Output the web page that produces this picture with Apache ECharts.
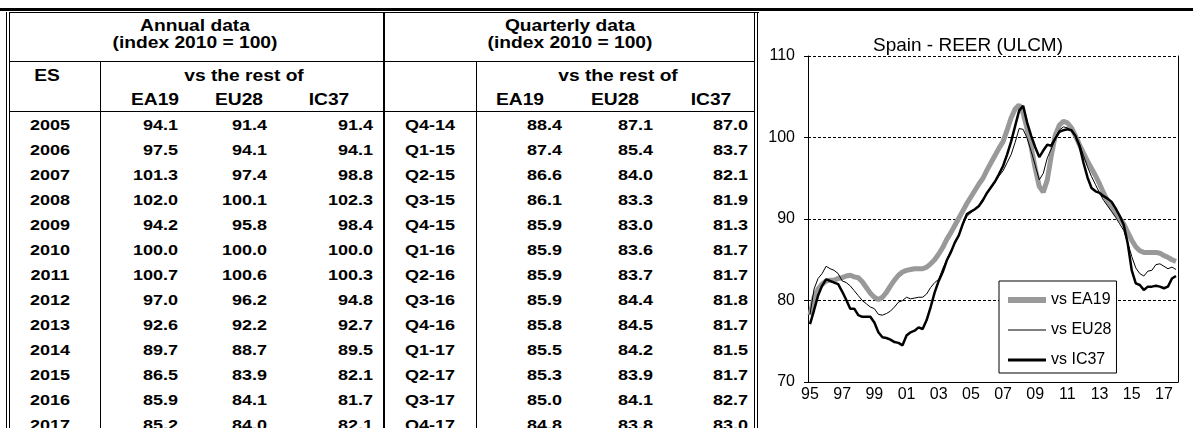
<!DOCTYPE html>
<html>
<head>
<meta charset="utf-8">
<script src="https://cdn.jsdelivr.net/npm/echarts@6/dist/echarts.min.js"></script>
<style>
  html, body { margin: 0; padding: 0; background: #fff; }
  #page { position: relative; width: 1193px; height: 428px; overflow: hidden; background: #fff; }
  #table { position: absolute; left: 0; top: 0; width: 1193px; height: 428px; font-family: "Liberation Sans", Arial, sans-serif; font-weight: bold; color: #000; }
  #table div { position: absolute; white-space: nowrap; }
  #chart { position: absolute; left: 0; top: 0; width: 1193px; height: 428px; }
</style>
</head>
<body>
<div id="page">
  <div id="table"></div>
  <div id="chart"></div>
</div>
<script>
// table: annual data
const annualYears = ['2005', '2006', '2007', '2008', '2009', '2010', '2011', '2012', '2013', '2014', '2015', '2016', '2017'];
const annualEA19 = [94.1, 97.5, 101.3, 102.0, 94.2, 100.0, 100.7, 97.0, 92.6, 89.7, 86.5, 85.9, 85.2];
const annualEU28 = [91.4, 94.1, 97.4, 100.1, 95.8, 100.0, 100.6, 96.2, 92.2, 88.7, 83.9, 84.1, 84.0];
const annualIC37 = [91.4, 94.1, 98.8, 102.3, 98.4, 100.0, 100.3, 94.8, 92.7, 89.5, 82.1, 81.7, 82.1];

// table: quarterly data
const tableQuarters = ['Q4-14', 'Q1-15', 'Q2-15', 'Q3-15', 'Q4-15', 'Q1-16', 'Q2-16', 'Q3-16', 'Q4-16', 'Q1-17', 'Q2-17', 'Q3-17', 'Q4-17'];
const quarterEA19 = [88.4, 87.4, 86.6, 86.1, 85.9, 85.9, 85.9, 85.9, 85.8, 85.5, 85.3, 85.0, 84.8];
const quarterEU28 = [87.1, 85.4, 84.0, 83.3, 83.0, 83.6, 83.7, 84.4, 84.5, 84.2, 83.9, 84.1, 83.8];
const quarterIC37 = [87.0, 83.7, 82.1, 81.9, 81.3, 81.7, 81.7, 81.8, 81.7, 81.5, 81.7, 82.7, 83.0];

// chart: quarterly REER, Q1-95 .. Q4-17
const chartYears = ['95', '96', '97', '98', '99', '00', '01', '02', '03', '04', '05', '06',
    '07', '08', '09', '10', '11', '12', '13', '14', '15', '16', '17'];
const reerEA19 = [
    78.2, 80.4, 81.4, 82.0,   82.4, 82.5, 82.5, 82.7,   82.8, 83.0, 83.1, 82.9,
    82.8, 82.3, 81.6, 80.9,   80.4, 80.1, 80.4, 81.0,   81.8, 82.5, 83.1, 83.5,
    83.7, 83.8, 83.9, 83.9,   83.9, 84.1, 84.5, 85.0,   85.7, 86.5, 87.5, 88.3,
    89.2, 90.1, 91.0, 91.9,   92.7, 93.5, 94.3, 95.0,   96.0, 96.9, 97.8, 98.7,
    99.5, 100.9, 102.4, 103.5, 104.0, 103.0, 101.0, 98.8, 96.2, 94.0, 93.3, 94.8,
    97.8, 100.3, 101.5, 102.0, 101.8, 101.2, 100.2, 99.1, 98.1, 97.1, 96.2, 95.3,
    94.3, 93.2, 92.2, 91.4,   90.7, 90.1, 89.4, 88.4,   87.4, 86.6, 86.1, 85.9,
    85.9, 85.9, 85.9, 85.8,   85.5, 85.3, 85.0, 84.8
];
const reerEU28 = [
    78.3, 81.4, 82.7, 83.3,   84.2, 83.9, 83.7, 83.3,   82.4, 82.2, 81.8, 81.2,
    80.6, 80.0, 79.6, 79.2,   79.0, 78.3, 78.2, 78.4,   78.7, 79.2, 79.8, 80.0,
    80.4, 80.2, 80.3, 80.4,   80.4, 80.8, 81.6, 82.2,   82.6, 83.9, 85.0, 86.1,
    87.0, 88.0, 89.3, 90.3,   90.8, 91.2, 91.7, 92.5,   93.2, 93.8, 94.5, 95.3,
    95.9, 96.9, 97.9, 99.4,   101.1, 101.0, 99.9, 98.3, 96.6, 94.8, 95.6, 97.5,
    98.6, 99.9, 100.9, 101.3, 101.2, 100.8, 100.2, 99.2, 97.8, 96.4, 95.2, 94.2,
    93.2, 92.3, 91.6, 90.9,   90.2, 89.4, 88.6, 87.1,   85.4, 84.0, 83.3, 83.0,
    83.6, 83.7, 84.4, 84.5,   84.2, 83.9, 84.1, 83.8
];
const reerIC37 = [
    77.1, 78.8, 80.6, 81.8,   82.6, 82.4, 82.2, 82.0,   81.1, 80.1, 79.0, 79.0,
    78.2, 78.0, 78.0, 78.0,   77.3, 76.1, 75.5, 75.4,   75.2, 74.9, 74.8, 74.5,
    75.7, 76.1, 76.3, 76.7,   76.5, 77.6, 79.2, 81.0,   82.4, 83.5, 84.9, 85.9,
    87.1, 88.0, 89.4, 90.6,   90.9, 91.2, 91.6, 92.3,   93.2, 93.9, 94.6, 95.5,
    96.5, 97.9, 99.5, 101.4,  103.3, 103.9, 101.8, 100.2, 98.8, 97.6, 98.4, 99.1,
    99.0, 99.9, 100.7, 100.9, 101.0, 100.9, 100.2, 99.0, 96.9, 95.1, 93.8, 93.4,
    93.2, 92.8, 92.5, 92.1,   91.3, 90.4, 89.3, 87.0,   83.7, 82.1, 81.9, 81.3,
    81.7, 81.7, 81.8, 81.7,   81.5, 81.7, 82.7, 83.0
];

const quarterLabels = [];
chartYears.forEach(function (y) {
    for (let q = 1; q <= 4; q++) quarterLabels.push('Q' + q + '-' + y);
});

// ---- table (plain html) ----
const tbl = document.getElementById('table');

function box(x, y, w, h) {
    const d = document.createElement('div');
    d.style.cssText = 'left:' + x + 'px;top:' + y + 'px;width:' + w + 'px;height:' + h + 'px;background:#000;';
    tbl.appendChild(d);
}

// the source picture is a bit stretched sideways, so the text is widened a little
function txt(s, x, y, align, size) {
    const d = document.createElement('div');
    const w = 240;
    const left = align === 'right' ? x - w : x - w / 2;
    d.style.cssText = 'left:' + left + 'px;top:' + (y - 10) + 'px;width:' + w + 'px;height:20px;line-height:20px;' +
        'text-align:' + align + ';font-size:' + size + 'px;' +
        'transform:scaleX(1.2);transform-origin:' + (align === 'right' ? 'right' : 'center') + ' center;';
    d.textContent = s;
    tbl.appendChild(d);
}

// frame
box(0, 8, 1193, 3);
box(6, 12, 1, 416);
box(9, 12, 1, 416);
box(9, 12, 750, 1);
box(754, 12, 1, 416);
box(757, 12, 1, 416);
box(383, 12, 2, 416);
box(10, 61, 744, 1);
box(10, 111, 744, 1);
box(100, 61, 1, 367);
box(476, 61, 1, 367);

// headers
txt('Annual data', 195, 26, 'center', 16);
txt('(index 2010 = 100)', 195, 43, 'center', 16);
txt('Quarterly data', 570, 26, 'center', 16);
txt('(index 2010 = 100)', 570, 43, 'center', 16);
txt('ES', 47, 76, 'center', 16);
txt('vs the rest of', 244, 76, 'center', 16);
txt('vs the rest of', 618, 76, 'center', 16);
txt('EA19', 155, 100, 'center', 16);
txt('EU28', 239, 100, 'center', 16);
txt('IC37', 329, 100, 'center', 16);
txt('EA19', 520, 100, 'center', 16);
txt('EU28', 615, 100, 'center', 16);
txt('IC37', 711, 100, 'center', 16);

const rowH = 25;
annualYears.forEach(function (yr, k) {
    const y = 125 + k * rowH;
    txt(yr, 50, y, 'center', 15);
    txt(annualEA19[k].toFixed(1), 178, y, 'right', 15);
    txt(annualEU28[k].toFixed(1), 267, y, 'right', 15);
    txt(annualIC37[k].toFixed(1), 373, y, 'right', 15);
    txt(tableQuarters[k], 430, y, 'center', 15);
    txt(quarterEA19[k].toFixed(1), 562, y, 'right', 15);
    txt(quarterEU28[k].toFixed(1), 653, y, 'right', 15);
    txt(quarterIC37[k].toFixed(1), 748, y, 'right', 15);
});

// ---- chart ----
const font = 'Liberation Sans';
const chart = echarts.init(document.getElementById('chart'), null, { renderer: 'canvas' });

const option = {
    animation: false,
    title: {
        text: 'Spain - REER (ULCM)',
        left: 963,
        top: 31,
        textAlign: 'center',
        textStyle: { fontFamily: font, fontSize: 19, fontWeight: 'normal', color: '#000' }
    },
    grid: { left: 808, top: 56, width: 370, height: 326, containLabel: false },
    legend: {
        orient: 'vertical',
        left: 999,
        top: 281,
        padding: [11, 5, 5, 6],
        itemWidth: 38,
        itemHeight: 14,
        itemGap: 14,
        borderColor: '#000',
        borderWidth: 1,
        backgroundColor: '#fff',
        textStyle: { fontFamily: font, fontSize: 16, color: '#000' },
        data: [
            { name: 'vs EA19', lineStyle: { width: 6, color: '#999999' }, itemStyle: { opacity: 0 } },
            { name: 'vs EU28', lineStyle: { width: 1, color: '#000' }, itemStyle: { opacity: 0 } },
            { name: 'vs IC37', lineStyle: { width: 3, color: '#000' }, itemStyle: { opacity: 0 } }
        ]
    },
    xAxis: {
        type: 'category',
        data: quarterLabels,
        boundaryGap: true,
        axisLine: { lineStyle: { color: '#000', width: 1 } },
        axisTick: { interval: 3, length: 4, lineStyle: { color: '#000' } },
        axisLabel: {
            interval: 7,
            margin: 5,
            fontFamily: font,
            fontSize: 16,
            color: '#000',
            formatter: function (v) { return v.slice(3); }
        },
        splitLine: { show: false }
    },
    yAxis: [
        {
            type: 'value',
            min: 70,
            max: 110,
            interval: 10,
            axisLine: { show: true, lineStyle: { color: '#000', width: 1 } },
            axisTick: { show: true, length: 4, lineStyle: { color: '#000' } },
            axisLabel: { fontFamily: font, fontSize: 16, color: '#000', margin: 13 },
            splitLine: { show: true, lineStyle: { color: '#000', width: 1, type: [3, 2] } }
        },
        {
            type: 'value',
            position: 'right',
            min: 70,
            max: 110,
            interval: 10,
            axisLine: { show: true, lineStyle: { color: '#000', width: 1 } },
            axisTick: { show: false },
            axisLabel: { show: false },
            splitLine: { show: false }
        }
    ],
    series: [
        {
            name: 'vs EA19',
            type: 'line',
            data: reerEA19,
            symbol: 'none',
            lineStyle: { color: '#999999', width: 5 },
            itemStyle: { color: '#999999' }
        },
        {
            name: 'vs EU28',
            type: 'line',
            data: reerEU28,
            symbol: 'none',
            lineStyle: { color: '#000', width: 1 },
            itemStyle: { color: '#000' }
        },
        {
            name: 'vs IC37',
            type: 'line',
            data: reerIC37,
            symbol: 'none',
            lineStyle: { color: '#000', width: 2.5 },
            itemStyle: { color: '#000' }
        }
    ]
};
chart.setOption(option);
</script>
</body>
</html>
